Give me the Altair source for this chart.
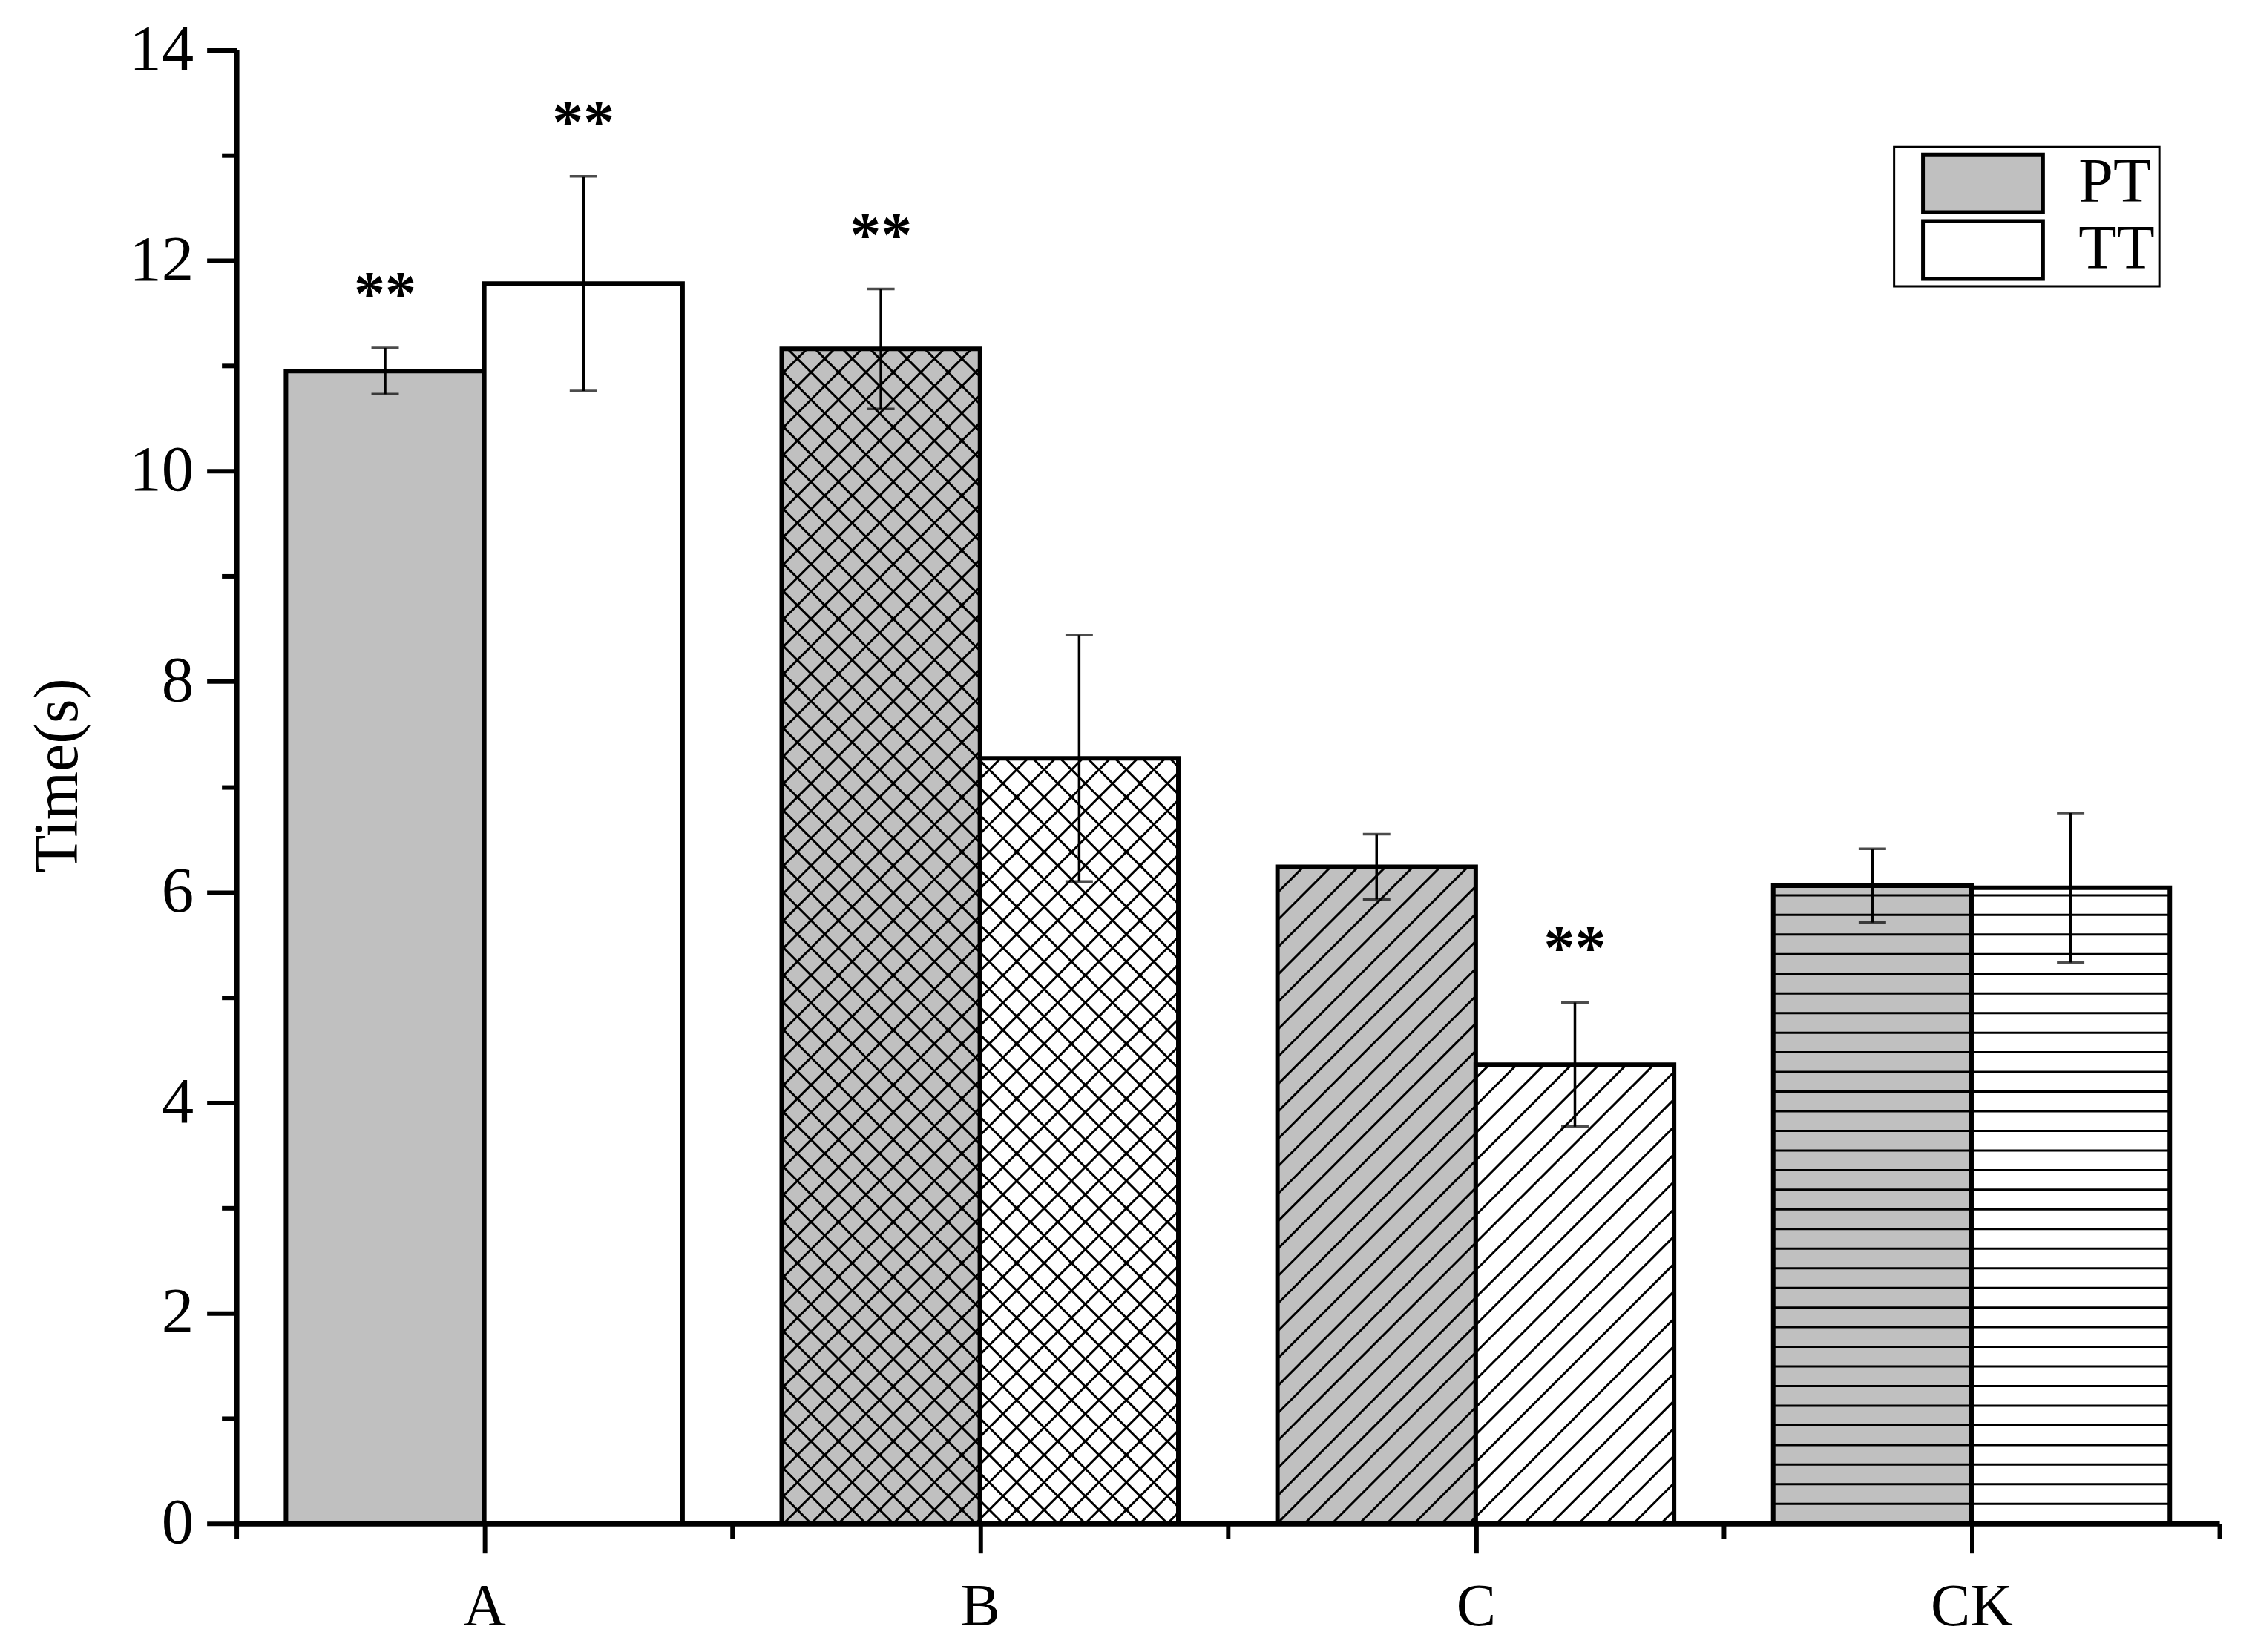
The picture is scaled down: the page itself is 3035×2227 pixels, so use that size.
import json
import altair as alt
import pandas as pd

# ---------------- data ----------------
categories = ["A", "B", "C", "CK"]
series_names = ["PT", "TT"]
pt_mean = [10.95, 11.16, 6.24, 6.06]
pt_err = [0.22, 0.57, 0.31, 0.35]
tt_mean = [11.78, 7.27, 4.36, 6.04]
tt_err = [1.02, 1.17, 0.59, 0.71]
pt_sig = ["**", "**", "", ""]
tt_sig = ["**", "", "**", ""]
y_title = "Time(s)"

# ---------------- styles ----------------
PATTERN = {"A": "none", "B": "cross", "C": "diag", "CK": "horiz"}
FILLS = ["#C0C0C0", "#FFFFFF"]
FONT = "Liberation Serif"

W, H = 2676, 1989
YMAX = 14
XMIN, XMAX = 0.5, len(categories) + 0.5
KX = W / (XMAX - XMIN)   # px per x unit
KY = H / YMAX            # px per y unit
BARW = 0.4
S = 37.0        # diagonal hatch horizontal spacing (px)
HS = 26.5       # horizontal hatch spacing (px)
HATCH_W = 3.0

rows = []
for i, c in enumerate(categories):
    for s, means, errs, sigs in (("PT", pt_mean, pt_err, pt_sig),
                                 ("TT", tt_mean, tt_err, tt_sig)):
        rows.append(dict(cat=c, series=s, idx=i + 1, mean=means[i],
                         err=errs[i], sig=sigs[i], pattern=PATTERN[c]))
df = pd.DataFrame(rows)

xscale = alt.Scale(domain=[XMIN, XMAX], nice=False, zero=False)
yscale = alt.Scale(domain=[0, YMAX], nice=False)

base = alt.Chart(df).transform_calculate(
    xl=f"datum.idx - (datum.series == 'PT' ? {BARW} : 0)",
    xr=f"datum.xl + {BARW}",
    xc=f"datum.xl + {BARW / 2}",
    lo="datum.mean - datum.err",
    hi="datum.mean + datum.err",
    u0=f"datum.xl * {KX}",
    u1=f"datum.xr * {KX}",
    V=f"datum.mean * {KY}",
)

xticks = [XMIN + 0.5 * k for k in range(2 * len(categories) + 1)]
label_arr = json.dumps([""] + categories)
x_axis = alt.Axis(
    values=xticks,
    labelExpr=f"datum.value % 1 ? '' : {label_arr}[datum.value]",
    tickSize={"condition": {"test": "datum.value % 1", "value": 20}, "value": 40},
    labelPadding=34, labelOverlap=False, labelFlush=False, title=None,
    labelFontSize=80,
)
y_axis = alt.Axis(
    values=list(range(0, YMAX + 1)),
    labelExpr="datum.value % 2 ? '' : datum.label",
    tickSize={"condition": {"test": "datum.value % 2", "value": 20}, "value": 40},
    labelPadding=18, labelOverlap=False, title=y_title, labelFontSize=87,
    titleX=-240, titleY=979, titleBaseline="middle", titleAngle=270,
)

def X(field):
    return alt.X(field, scale=xscale, axis=x_axis)

def Y(field):
    return alt.Y(field, scale=yscale, axis=y_axis)

legend = alt.Legend(
    title=None,
    orient="none", legendX=2237, legendY=131, padding=6,
    symbolType="M-2,-0.963H2V0.963H-2Z", symbolSize=6561,
    symbolStrokeWidth=5, symbolStrokeColor="black",
    symbolOffset=71, labelOffset=86, rowPadding=4, clipHeight=86,
    labelFont=FONT, labelFontSize=84, labelColor="black", labelLimit=600,
    strokeColor="black",
)

bars = base.mark_rect(stroke="black", strokeWidth=6).encode(
    x=X("xl:Q"),
    x2="xr:Q",
    y=Y("mean:Q"),
    y2=alt.datum(0),
    fill=alt.Fill("series:N", scale=alt.Scale(domain=series_names, range=FILLS),
                  legend=legend),
)

def rule_enc(ch):
    return ch.encode(x=X("hx:Q"), x2="hx2:Q", y=Y("hy:Q"), y2="hy2:Q")

d1 = rule_enc(
    base.transform_filter("datum.pattern == 'cross' || datum.pattern == 'diag'")
    .transform_calculate(ks=f"sequence(ceil((datum.u0 - datum.V) / {S}), floor(datum.u1 / {S}) + 1)")
    .transform_flatten(["ks"], as_=["k"])
    .transform_calculate(
        c=f"datum.k * {S}",
        ua="max(datum.u0, datum.c)",
        ub="min(datum.u1, datum.V + datum.c)",
    )
    .transform_filter("datum.ub - datum.ua > 0.5")
    .transform_calculate(
        hx=f"datum.ua / {KX}", hx2=f"datum.ub / {KX}",
        hy=f"(datum.ua - datum.c) / {KY}", hy2=f"(datum.ub - datum.c) / {KY}",
    )
    .mark_rule(color="black", strokeWidth=HATCH_W)
)

d2 = rule_enc(
    base.transform_filter("datum.pattern == 'cross'")
    .transform_calculate(ks=f"sequence(ceil(datum.u0 / {S}), floor((datum.u1 + datum.V) / {S}) + 1)")
    .transform_flatten(["ks"], as_=["k"])
    .transform_calculate(
        c=f"datum.k * {S}",
        ua="max(datum.u0, datum.c - datum.V)",
        ub="min(datum.u1, datum.c)",
    )
    .transform_filter("datum.ub - datum.ua > 0.5")
    .transform_calculate(
        hx=f"datum.ua / {KX}", hx2=f"datum.ub / {KX}",
        hy=f"(datum.c - datum.ua) / {KY}", hy2=f"(datum.c - datum.ub) / {KY}",
    )
    .mark_rule(color="black", strokeWidth=HATCH_W)
)

hz = (
    base.transform_filter("datum.pattern == 'horiz'")
    .transform_calculate(ks=f"sequence(1, floor((datum.V - 4) / {HS}) + 1)")
    .transform_flatten(["ks"], as_=["k"])
    .transform_calculate(hy=f"datum.k * {HS} / {KY}")
    .mark_rule(color="black", strokeWidth=HATCH_W)
    .encode(x=X("xl:Q"), x2="xr:Q", y=Y("hy:Q"))
)

err_rule = base.mark_rule(color="black", strokeWidth=3.5).encode(
    x=X("xc:Q"), y=Y("lo:Q"), y2="hi:Q",
)

caps = base.transform_fold(["lo", "hi"], as_=["end", "ev"]).mark_tick(
    orient="horizontal", size=37, thickness=3.5, color="black"
).encode(x=X("xc:Q"), y=Y("ev:Q"))

stars = base.transform_filter("datum.sig != ''").mark_text(
    font=FONT, fontSize=84, fontWeight="bold", dy=-45, baseline="alphabetic",
    align="center", color="black"
).encode(x=X("xc:Q"), y=Y("hi:Q"), text="sig:N")

chart = (
    alt.layer(bars, d1, d2, hz, err_rule, caps, stars)
    .properties(
        width=W, height=H,
        padding={"left": 311, "top": 58, "right": 36, "bottom": 168},
        autosize=alt.AutoSizeParams(type="none"),
    )
    .configure_view(stroke=None)
    .configure_axis(
        grid=False, domainColor="black", domainWidth=7, tickColor="black",
        tickWidth=6, labelFont=FONT, labelColor="black",
        titleFont=FONT, titleFontSize=84, titleFontWeight="normal", titleColor="black",
    )
    .configure_legend(strokeWidth=3)
)

chart.save("out.html", embed_options={"renderer": "svg", "actions": False})
